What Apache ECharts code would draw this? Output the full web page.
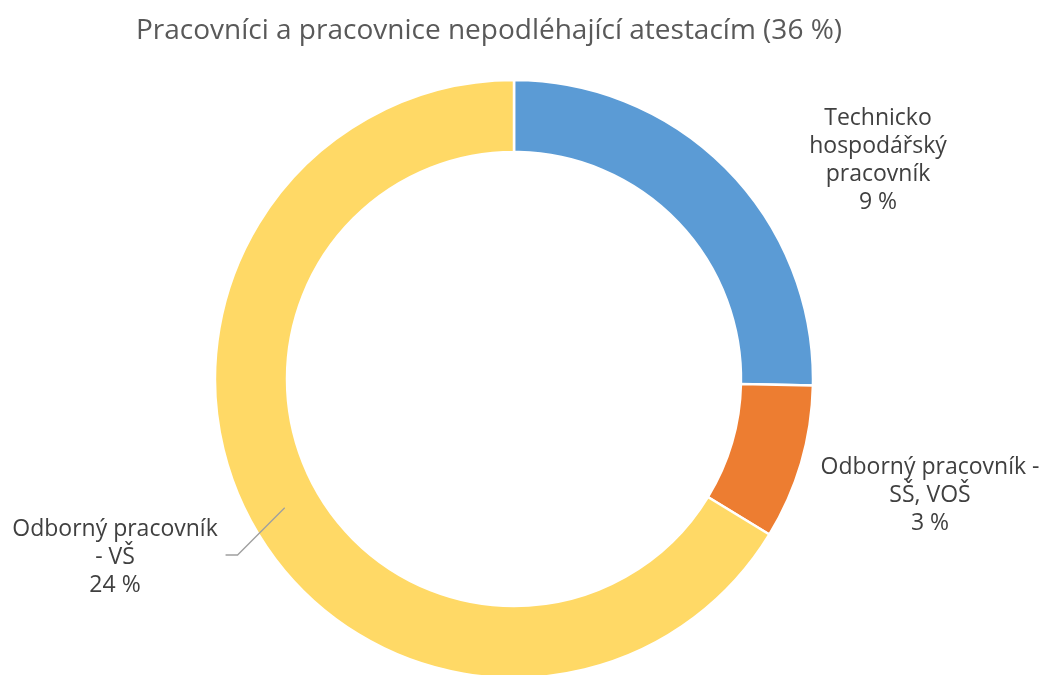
<!DOCTYPE html>
<html>
<head>
<meta charset="utf-8">
<script src="https://cdn.jsdelivr.net/npm/echarts@6/dist/echarts.min.js"></script>
<style>
html,body{margin:0;padding:0;background:#fff;}
#chart{width:1043px;height:675px;}
</style>
</head>
<body>
<div id="chart"></div>
<script>
const titleText = 'Pracovníci a pracovnice nepodléhající atestacím (36 %)';
const categories = ['Technicko\nhospodářský\npracovník', 'Odborný pracovník -\nSŠ, VOŠ', 'Odborný pracovník\n- VŠ'];
const values = [9.1, 3.0, 23.8];
const colors = ['#5B9BD5', '#ED7D31', '#FFD966'];

const FONT = 'Open Sans';
const center = [514, 379];
const radius = [227, 299];
const labelPos = [[878, 160], [930, 495], [115, 557]];

// leader line for the last slice, computed from the slice's mid angle
const total = values.reduce((a, b) => a + b, 0);
const midAngle = (values[0] + values[1] + values[2] / 2) / total * 2 * Math.PI;
const rm = (radius[0] + radius[1]) / 2;
const sx = center[0] + rm * Math.sin(midAngle);
const sy = center[1] - rm * Math.cos(midAngle);
const ey = labelPos[2][1] - 2;
const ex = sx - (ey - sy);
const leader = [[sx, sy], [ex, ey], [ex - 12, ey]];

const chart = echarts.init(document.getElementById('chart'));
chart.setOption({
  animation: false,
  backgroundColor: '#ffffff',
  title: {
    text: titleText,
    left: 484,
    top: 12,
    textAlign: 'center',
    textStyle: { fontFamily: FONT, fontSize: 28, fontWeight: 'normal', color: '#595959' }
  },
  graphic: [{
    type: 'polyline',
    z: 100,
    shape: { points: leader },
    style: { stroke: '#A0A0A0', lineWidth: 1.3, fill: null }
  }],
  series: [{
    type: 'pie',
    center: center,
    radius: radius,
    startAngle: 90,
    clockwise: true,
    avoidLabelOverlap: false,
    itemStyle: { borderColor: '#ffffff', borderWidth: 2.5 },
    label: {
      show: true,
      formatter: function (p) { return p.name + '\n' + Math.round(p.value) + ' %'; },
      fontFamily: FONT,
      fontSize: 23,
      lineHeight: 28,
      color: '#404040',
      align: 'center'
    },
    labelLine: { show: false },
    labelLayout: function (p) {
      const i = p.dataIndex;
      return { x: labelPos[i][0], y: labelPos[i][1], align: 'center', verticalAlign: 'middle' };
    },
    data: categories.map((c, i) => ({
      name: c,
      value: values[i],
      itemStyle: { color: colors[i] }
    }))
  }]
});
</script>
</body>
</html>
